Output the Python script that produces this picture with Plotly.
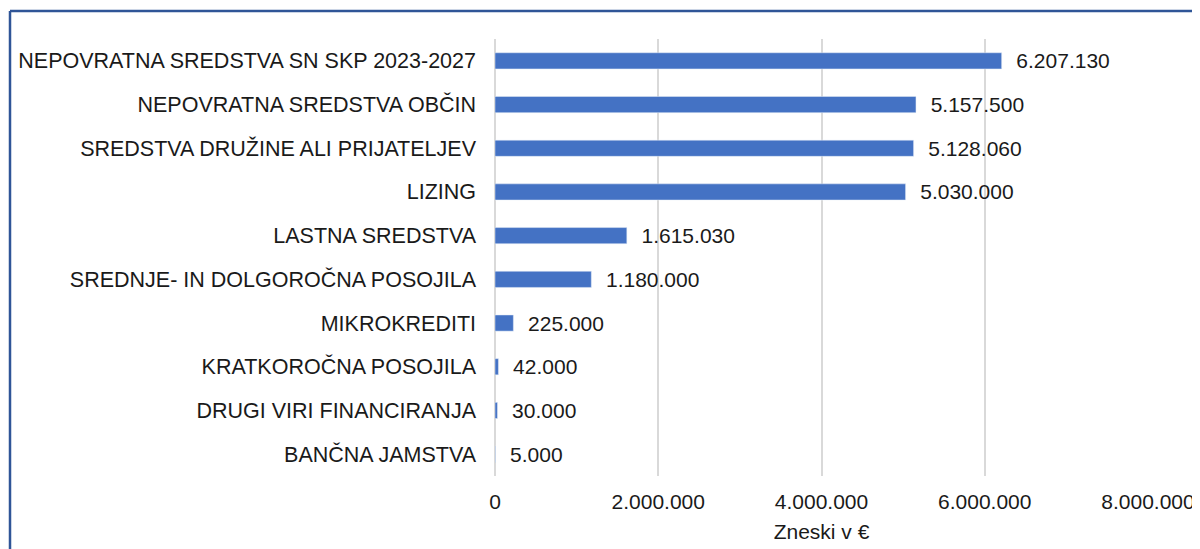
import plotly.graph_objects as go

categories = [
    "NEPOVRATNA SREDSTVA SN SKP 2023-2027",
    "NEPOVRATNA SREDSTVA OBČIN",
    "SREDSTVA DRUŽINE ALI PRIJATELJEV",
    "LIZING",
    "LASTNA SREDSTVA",
    "SREDNJE- IN DOLGOROČNA POSOJILA",
    "MIKROKREDITI",
    "KRATKOROČNA POSOJILA",
    "DRUGI VIRI FINANCIRANJA",
    "BANČNA JAMSTVA",
]
values = [6207130, 5157500, 5128060, 5030000, 1615030, 1180000, 225000, 42000, 30000, 5000]
tick_vals = [0, 2000000, 4000000, 6000000, 8000000]
x_title = "Zneski v €"

# page has an 8px body margin
W, H = 1192, 541
L, R, T, B = 487, 52, 31, 73
pw = W - L - R
ph = H - T - B

FONT = "Liberation Sans"
fig = go.Figure(go.Bar(
    y=categories, x=values, orientation="h",
    marker=dict(color="#4472C4"),
    texttemplate="  %{x:,}", textposition="outside", cliponaxis=False,
    constraintext="none",
    textfont=dict(size=21, color="#1a1a1a", family=FONT),
    width=0.37,
))

bx = (2 - L) / pw
ty = (H - B - 3) / ph
border = dict(color="#2F5597", width=2.5)
fig.add_shape(type="line", xref="paper", yref="paper", x0=bx, x1=bx, y0=ty, y1=-0.3, line=border)
fig.add_shape(type="line", xref="paper", yref="paper", x0=bx, x1=1.2, y0=ty, y1=ty, line=border)

fig.update_layout(
    width=W, height=H,
    margin=dict(l=L, r=R, t=T, b=B, autoexpand=False),
    paper_bgcolor="white", plot_bgcolor="white",
    separators=",.",
    showlegend=False,
    font=dict(family=FONT, size=21, color="#1a1a1a"),
    xaxis=dict(range=[0, 8000000], tickvals=tick_vals, tickformat=",d",
               showgrid=True, gridcolor="#d9d9d9", gridwidth=2,
               zeroline=True, zerolinecolor="#d9d9d9", zerolinewidth=2,
               showline=False, ticks="", ticklabelstandoff=11,
               title=dict(text=x_title, font=dict(size=21), standoff=12),
               tickfont=dict(size=21)),
    yaxis=dict(autorange="reversed", showgrid=False, ticks="", ticklabelstandoff=18,
               tickfont=dict(size=21.5)),
)

fig.write_html("out.html")
